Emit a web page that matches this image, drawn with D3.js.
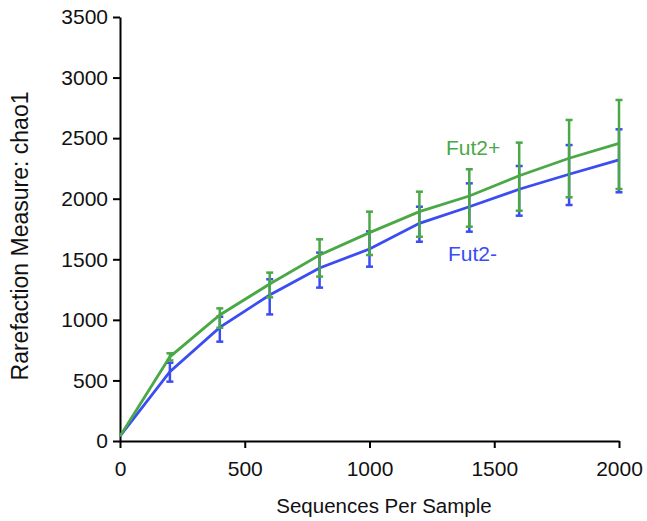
<!DOCTYPE html>
<html>
<head>
<meta charset="utf-8">
<script src="https://cdn.jsdelivr.net/npm/d3@7"></script>
<style>
  body { margin: 0; background: white; }
  text { font-family: "Liberation Sans", Arial, sans-serif; }
</style>
</head>
<body>
<div id="canvas"></div>
<script>
"use strict"

/* data */
let depths = [0, 200, 400, 600, 800, 1000, 1200, 1400, 1600, 1800, 2000];

let plusMean = [40, 695, 1040, 1296, 1535, 1720, 1893, 2022, 2190, 2334, 2457];
let plusLow  = [40, 665, 935, 1186, 1357, 1535, 1686, 1769, 1901, 2012, 2080];
let plusHigh = [40, 724, 1095, 1390, 1665, 1893, 2058, 2243, 2463, 2650, 2815];

let minusMean = [40, 572, 938, 1205, 1428, 1585, 1797, 1934, 2078, 2202, 2320];
let minusLow  = [40, 490, 820, 1045, 1266, 1439, 1645, 1728, 1860, 1948, 2053];
let minusHigh = [40, 646, 1026, 1335, 1555, 1730, 1934, 2127, 2270, 2443, 2573];

let xTicks = [0, 500, 1000, 1500, 2000];
let yTicks = [0, 500, 1000, 1500, 2000, 2500, 3000, 3500];

let green = "#4aa847";
let blue = "#3a4cf2";

/* canvas */
let drawing = d3.select("#canvas")
    .append("svg")
    .attr("width", 647)
    .attr("height", 521);

/* scales */
let x = d3.scaleLinear().domain([0, 2000]).range([120, 619]);
let y = d3.scaleLinear().domain([0, 3500]).range([441, 17]);

/* axes */
let xAxis = drawing.append("g")
    .attr("transform", "translate(0,441)")
    .call(d3.axisBottom(x).tickValues(xTicks).tickFormat(d3.format("d"))
      .tickSize(7).tickPadding(10).tickSizeOuter(0));

let yAxis = drawing.append("g")
    .attr("transform", "translate(120,0)")
    .call(d3.axisLeft(y).tickValues(yTicks).tickFormat(d3.format("d"))
      .tickSize(7).tickPadding(5).tickSizeOuter(0));

drawing.selectAll(".domain, .tick line")
    .attr("stroke", "black")
    .attr("stroke-width", 2);

drawing.selectAll(".tick text")
    .attr("font-family", "Liberation Sans, Arial, sans-serif")
    .attr("font-size", 21)
    .attr("fill", "#111");

xAxis.selectAll(".tick text").attr("dy", "0.85em");

/* axis titles */
let xTitle = drawing.append("text")
    .attr("x", 384)
    .attr("y", 513)
    .attr("text-anchor", "middle")
    .attr("font-size", 20.5)
    .attr("fill", "#111")
    .text("Sequences Per Sample");

let yTitle = drawing.append("text")
    .attr("transform", "translate(28,236) rotate(-90)")
    .attr("text-anchor", "middle")
    .attr("font-size", 23)
    .attr("fill", "#111")
    .text("Rarefaction Measure: chao1");

/* one series: line + error bars */
function drawSeries(mean, low, high, color) {
  let pts = depths.map((d, i) => ({ d: d, m: mean[i], lo: low[i], hi: high[i] }));

  let g = drawing.append("g");

  g.append("path")
    .datum(pts)
    .attr("d", d3.line().x(p => x(p.d)).y(p => y(p.m)))
    .attr("fill", "none")
    .attr("stroke", color)
    .attr("stroke-width", 2.8);

  let bars = g.selectAll(".bar")
    .data(pts.filter(p => p.d > 0))
    .enter().append("g");

  bars.append("line")
    .attr("x1", p => x(p.d)).attr("x2", p => x(p.d))
    .attr("y1", p => y(p.lo)).attr("y2", p => y(p.hi))
    .attr("stroke", color).attr("stroke-width", 2.5);

  bars.append("line")
    .attr("x1", p => x(p.d) - 3.5).attr("x2", p => x(p.d) + 3.5)
    .attr("y1", p => y(p.lo)).attr("y2", p => y(p.lo))
    .attr("stroke", color).attr("stroke-width", 2.5);

  bars.append("line")
    .attr("x1", p => x(p.d) - 3.5).attr("x2", p => x(p.d) + 3.5)
    .attr("y1", p => y(p.hi)).attr("y2", p => y(p.hi))
    .attr("stroke", color).attr("stroke-width", 2.5);
}

drawSeries(minusMean, minusLow, minusHigh, blue);
drawSeries(plusMean, plusLow, plusHigh, green);

/* series labels */
let plusLabel = drawing.append("text")
    .attr("x", 446).attr("y", 155)
    .attr("font-size", 21)
    .attr("fill", green)
    .text("Fut2+");

let minusLabel = drawing.append("text")
    .attr("x", 448).attr("y", 261)
    .attr("font-size", 21)
    .attr("fill", blue)
    .text("Fut2-");
</script>
</body>
</html>
